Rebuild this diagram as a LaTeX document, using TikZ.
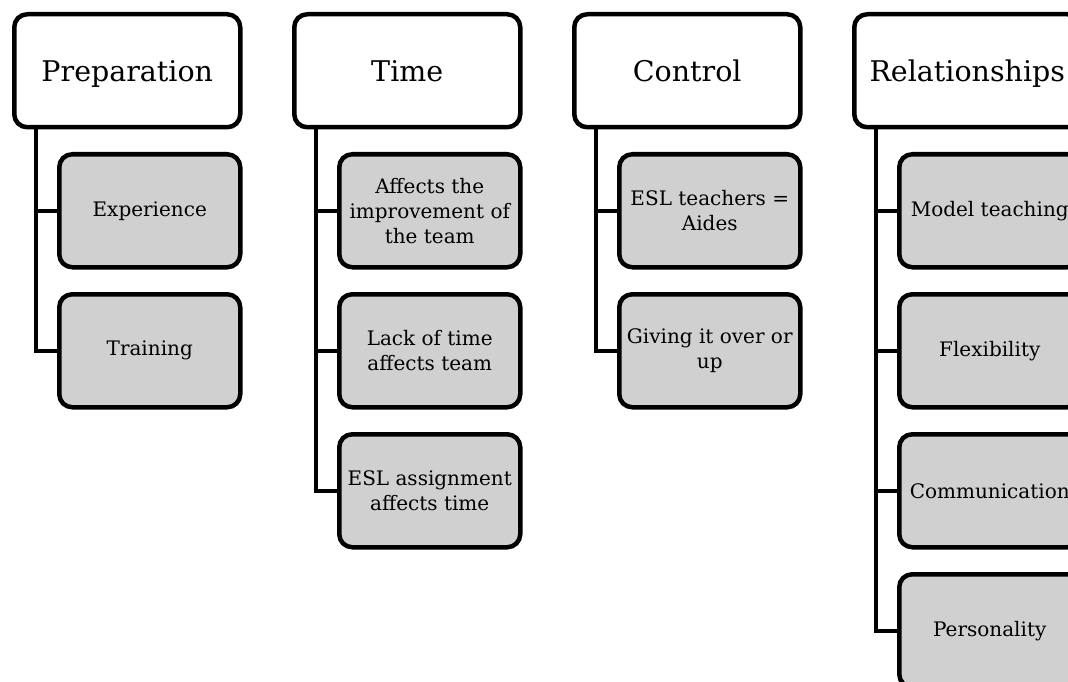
\documentclass[tikz,border=0pt]{standalone}
\usepackage{fontspec}
\setmainfont{DejaVu Serif}
\definecolor{boxgray}{RGB}{208,208,208}
\begin{document}
\begin{tikzpicture}[x=1pt,y=-1pt,
  hdr/.style={draw, line width=4.5pt, rounded corners=13pt, fill=white,
    minimum width=226pt, minimum height=113pt, text height=22pt, text depth=0pt,
    font=\fontsize{28.5}{34}\selectfont, anchor=north west, inner sep=0pt},
  sub/.style={draw, line width=4.5pt, rounded corners=13pt, fill=boxgray,
    minimum width=181pt, minimum height=113pt,
    font=\fontsize{20}{25}\selectfont, align=center, anchor=north west, inner sep=0pt},
  conn/.style={line width=4.5pt}]
\clip (0,0) rectangle (1068,682);
% Preparation
\node[hdr] (P) at (12,12) {Preparation};
\node[sub] (P1) at (57,152) {Experience};
\node[sub] (P2) at (57,292) {Training};
% Time
\node[hdr] (T) at (292,12) {Time};
\node[sub] (T1) at (337,152) {Affects the\\improvement of\\the team};
\node[sub] (T2) at (337,292) {Lack of time\\affects team};
\node[sub] (T3) at (337,432) {ESL assignment\\affects time};
% Control
\node[hdr] (C) at (572,12) {Control};
\node[sub] (C1) at (617,152) {ESL teachers =\\Aides};
\node[sub] (C2) at (617,292) {Giving it over or\\up};
% Relationships
\node[hdr] (R) at (852,12) {Relationships};
\node[sub] (R1) at (897,152) {Model teaching};
\node[sub] (R2) at (897,292) {Flexibility};
\node[sub] (R3) at (897,432) {Communication};
\node[sub] (R4) at (897,572) {Personality};
% connectors
\foreach \h/\c in {P/P1,P/P2,T/T1,T/T2,T/T3,C/C1,C/C2,R/R1,R/R2,R/R3,R/R4}
  \draw[conn] ([xshift=24pt,yshift=2pt]\h.south west) |- (\c.west);
\end{tikzpicture}
\end{document}
